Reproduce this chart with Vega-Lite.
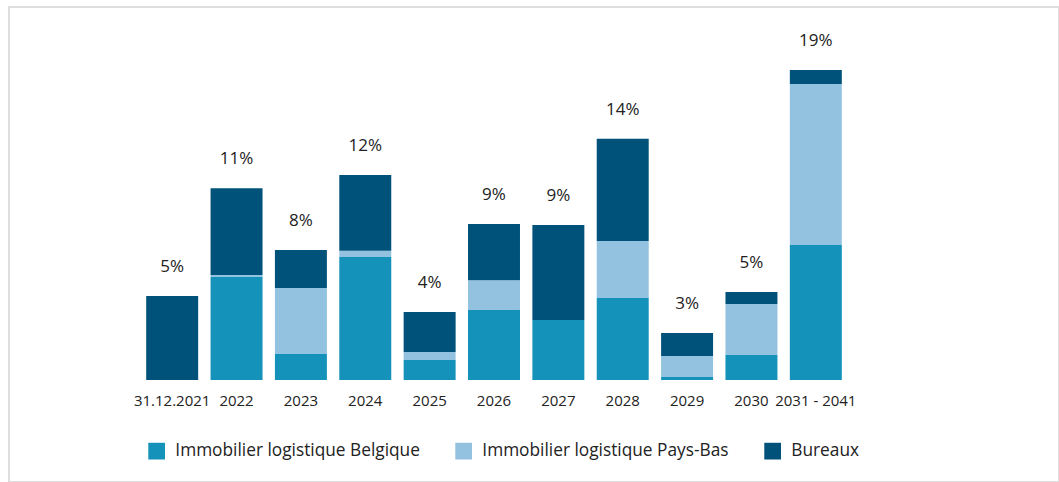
{
  "$schema": "https://vega.github.io/schema/vega-lite/v6.json",
  "autosize": "none",
  "width": 1050,
  "height": 475,
  "padding": {"left": 9, "top": 7, "right": 0, "bottom": 0},
  "background": "#ffffff",
  "config": {
    "view": {"stroke": "#dedede", "strokeWidth": 2},
    "font": "Open Sans"
  },
  "data": {
    "values": [
      {"period": "31.12.2021", "type": "Bureaux", "value": 0.0502},
      {"period": "2022", "type": "Immobilier logistique Belgique", "value": 0.0616},
      {"period": "2022", "type": "Immobilier logistique Pays-Bas", "value": 0.0012},
      {"period": "2022", "type": "Bureaux", "value": 0.0518},
      {"period": "2023", "type": "Immobilier logistique Belgique", "value": 0.0155},
      {"period": "2023", "type": "Immobilier logistique Pays-Bas", "value": 0.0395},
      {"period": "2023", "type": "Bureaux", "value": 0.0227},
      {"period": "2024", "type": "Immobilier logistique Belgique", "value": 0.0735},
      {"period": "2024", "type": "Immobilier logistique Pays-Bas", "value": 0.0038},
      {"period": "2024", "type": "Bureaux", "value": 0.0452},
      {"period": "2025", "type": "Immobilier logistique Belgique", "value": 0.012},
      {"period": "2025", "type": "Immobilier logistique Pays-Bas", "value": 0.0048},
      {"period": "2025", "type": "Bureaux", "value": 0.0239},
      {"period": "2026", "type": "Immobilier logistique Belgique", "value": 0.0418},
      {"period": "2026", "type": "Immobilier logistique Pays-Bas", "value": 0.0179},
      {"period": "2026", "type": "Bureaux", "value": 0.0335},
      {"period": "2027", "type": "Immobilier logistique Belgique", "value": 0.0359},
      {"period": "2027", "type": "Bureaux", "value": 0.0568},
      {"period": "2028", "type": "Immobilier logistique Belgique", "value": 0.049},
      {"period": "2028", "type": "Immobilier logistique Pays-Bas", "value": 0.0341},
      {"period": "2028", "type": "Bureaux", "value": 0.0612},
      {"period": "2029", "type": "Immobilier logistique Belgique", "value": 0.0018},
      {"period": "2029", "type": "Immobilier logistique Pays-Bas", "value": 0.0126},
      {"period": "2029", "type": "Bureaux", "value": 0.0137},
      {"period": "2030", "type": "Immobilier logistique Belgique", "value": 0.0149},
      {"period": "2030", "type": "Immobilier logistique Pays-Bas", "value": 0.0305},
      {"period": "2030", "type": "Bureaux", "value": 0.0072},
      {"period": "2031 - 2041", "type": "Immobilier logistique Belgique", "value": 0.0807},
      {"period": "2031 - 2041", "type": "Immobilier logistique Pays-Bas", "value": 0.0962},
      {"period": "2031 - 2041", "type": "Bureaux", "value": 0.0084}
    ]
  },
  "encoding": {
    "x": {
      "field": "period",
      "type": "nominal",
      "sort": null,
      "scale": {"range": [131, 839], "paddingInner": 0.1925, "paddingOuter": 0.09625},
      "axis": {
        "title": null,
        "labelAngle": 0,
        "ticks": false,
        "tickSize": 0,
        "domain": false,
        "labelPadding": 0,
        "offset": -77,
        "labelBaseline": "alphabetic",
        "labelFont": "Open Sans",
        "labelFontSize": 15,
        "labelColor": "#222222"
      }
    }
  },
  "layer": [
    {
      "transform": [
        {"calculate": "datum.type === 'Bureaux' ? 2 : (datum.type === 'Immobilier logistique Pays-Bas' ? 1 : 0)", "as": "stackOrder"}
      ],
      "mark": {"type": "bar"},
      "encoding": {
        "y": {
          "field": "value",
          "type": "quantitative",
          "stack": "zero",
          "scale": {"domain": [-0.061, 0.223], "nice": false, "zero": false},
          "axis": null
        },
        "order": {"field": "stackOrder", "type": "quantitative", "sort": "ascending"},
        "color": {
          "field": "type",
          "type": "nominal",
          "sort": ["Immobilier logistique Belgique", "Immobilier logistique Pays-Bas", "Bureaux"],
          "scale": {
            "domain": ["Immobilier logistique Belgique", "Immobilier logistique Pays-Bas", "Bureaux"],
            "range": ["#1492ba", "#92c2df", "#00527a"]
          },
          "legend": {
            "title": null,
            "orient": "none",
            "direction": "horizontal",
            "legendX": 139,
            "legendY": 435,
            "padding": 0,
            "symbolType": "square",
            "symbolSize": 280,
            "symbolStrokeWidth": 0,
            "symbolOpacity": 1,
            "labelFont": "Open Sans",
            "labelFontSize": 17.3,
            "labelColor": "#222222",
            "labelOffset": 10,
            "labelLimit": 400,
            "columnPadding": 35
          }
        }
      }
    },
    {
      "transform": [
        {"aggregate": [{"op": "sum", "field": "value", "as": "total"}], "groupby": ["period"]}
      ],
      "mark": {"type": "text", "baseline": "alphabetic", "dy": -24, "fontSize": 17, "font": "Open Sans", "color": "#222222"},
      "encoding": {
        "y": {"field": "total", "type": "quantitative"},
        "text": {"field": "total", "type": "quantitative", "format": ".0%"}
      }
    }
  ]
}
